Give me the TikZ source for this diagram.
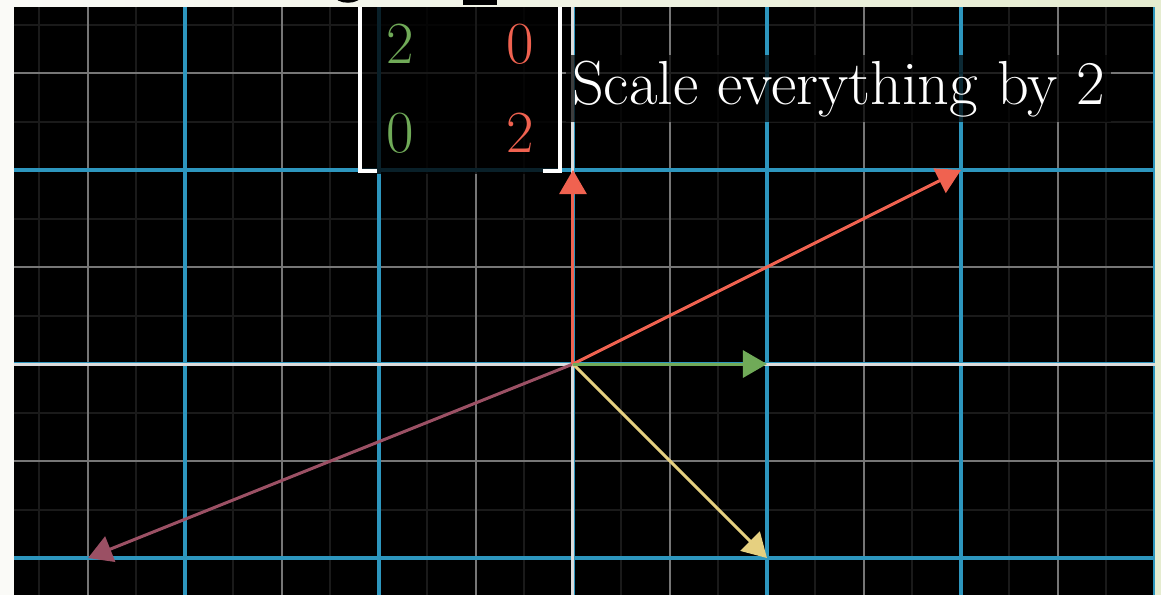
\documentclass[tikz,border=0pt]{standalone}
\usepackage{fontspec}
\usetikzlibrary{arrows.meta, math, positioning}
\definecolor{gridblue}{RGB}{45,150,190}
\definecolor{gridgrey}{RGB}{118,118,118}
\definecolor{gridfaint}{RGB}{26,26,26}
\definecolor{axiswhite}{RGB}{220,220,220}
\definecolor{vecgreen}{RGB}{112,170,88}
\definecolor{vecred}{RGB}{240,98,80}
\definecolor{vecyellow}{RGB}{230,208,128}
\definecolor{vecmaroon}{RGB}{155,80,100}
\definecolor{pagewhite}{RGB}{250,250,247}
\definecolor{pagegreen}{RGB}{229,236,208}

\begin{document}
\begin{tikzpicture}[x=1.94cm, y=1.94cm,
  faintline/.style={draw=gridfaint, line width=0.04cm},
  greyline/.style={draw=gridgrey, line width=0.04cm},
  blueline/.style={draw=gridblue, line width=0.07cm},
  axisline/.style={draw=axiswhite, line width=0.06cm},
  vec/.style={line width=0.06cm, -{Triangle[length=0.48cm, width=0.54cm]}},
  bracket/.style={draw=white, line width=0.08cm},
  bigtext/.style={font=\fontsize{34}{40}\selectfont},
  captiontext/.style={font=\fontsize{35.4}{42}\selectfont}]
\tikzmath{
\xl=-5.907;
\xr=6.062;
\yb=-2.381;
\yt=3.753;
\fl=-5.763;
\fr=6.0;
\ft=3.68;
}
\useasboundingbox (\xl,\yb) rectangle (\xr,\yt);
\shade[left color=pagewhite, right color=pagegreen] (\xl,\yb) rectangle (\xr,\yt);

% cut-off title above the frame
\begin{scope}
\clip (\xl,\ft) rectangle (\xr,\yt);
\draw[black, line width=0.06cm] (-2.32,3.81) ellipse (0.13 and 0.07);
\fill[black] (-1.13,3.705) rectangle (-0.78,3.77);
\end{scope}

\begin{scope}
\clip (\fl,\yb) rectangle (\fr,\ft);
\fill[black] (\fl,\yb) rectangle (\fr,\ft);

% background plane
\foreach \k in {-6.5,-5.5,...,6.5}
  \draw[faintline] (\k,\yb) -- (\k,\ft);
\foreach \k in {-2.5,-1.5,...,3.5}
  \draw[faintline] (\fl,\k) -- (\fr,\k);
\foreach \k in {-6,...,6}
  \draw[greyline] (\k,\yb) -- (\k,\ft);
\foreach \k in {-2,...,3}
  \draw[greyline] (\fl,\k) -- (\fr,\k);

% scaled plane
\foreach \k in {-6,-4,...,6}
  \draw[blueline] (\k,\yb) -- (\k,\ft);
\foreach \k in {-2,0,2}
  \draw[blueline] (\fl,\k) -- (\fr,\k);
\draw[axisline] (\fl,0) -- (\fr,0);
\draw[axisline] (0,\yb) -- (0,\ft);

% vectors
\coordinate (O) at (0,0);
\coordinate (ihat) at (2,0);
\coordinate (jhat) at (0,2);
\coordinate (vred) at (4,2);
\coordinate (vyellow) at (2,-2);
\coordinate (vmaroon) at (-5,-2);
\draw[vec, vecmaroon] (O) -- (vmaroon);
\draw[vec, vecyellow] (O) -- (vyellow);
\draw[vec, vecred] (O) -- (vred);
\draw[vec, vecred] (O) -- (jhat);
\draw[vec, vecgreen] (O) -- (ihat);

% matrix
\fill[black, opacity=0.78] (-2.22,1.96) rectangle (-0.11,\ft);
\node[bigtext, text=vecgreen] (a11) at (-1.784,3.30) {2};
\node[bigtext, text=vecred] (a12) at (-0.546,3.30) {0};
\node[bigtext, text=vecgreen] (a21) at (-1.784,2.38) {0};
\node[bigtext, text=vecred] (a22) at (-0.546,2.38) {2};
\draw[bracket] (-2.02,1.985) -- (-2.196,1.985) -- (-2.196,\ft+0.1);
\draw[bracket] (-0.31,1.985) -- (-0.134,1.985) -- (-0.134,\ft+0.1);

\node[captiontext, text=white, fill=black, fill opacity=0.72, text opacity=1,
  anchor=base west, inner xsep=3.3pt, inner ysep=3pt] (caption)
  at (-0.072,2.68) {Scale everything by 2};
\end{scope}
\end{tikzpicture}
\end{document}
